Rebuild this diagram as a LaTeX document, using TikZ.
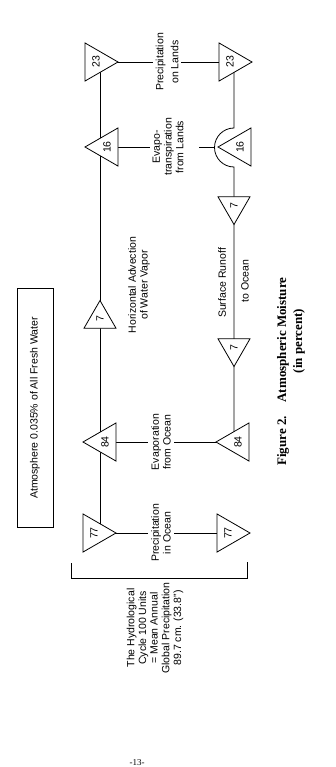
\documentclass[tikz,border=0pt]{standalone}
\usepackage{fontspec}
\setmainfont{Liberation Serif}
\newfontfamily\diagfont{Liberation Sans}
\usetikzlibrary{shapes.geometric,backgrounds}
\begin{document}
\begin{tikzpicture}[x=1pt,y=-1pt,
  diagtext/.style={font=\diagfont\fontsize{10.5}{11.7}\selectfont},
  tri/.style={regular polygon, regular polygon sides=3, draw, fill=white,
    line width=0.8pt, rotate=90, inner sep=0pt, minimum size=44pt, diagtext},
  smalltri/.style={minimum size=37pt},
  pleft/.style={tri, regular polygon rotate=0},
  pright/.style={tri, regular polygon rotate=180},
  pup/.style={tri, regular polygon rotate=-90},
  pdown/.style={tri, regular polygon rotate=90},
  lbl/.style={rotate=90, align=center, diagtext, inner sep=0pt},
  gaplbl/.style={lbl, fill=white, inner sep=3pt},
  conn/.style={line width=0.8pt},
  captext/.style={rotate=90, anchor=base, inner sep=0pt, font=\fontsize{13}{15}\selectfont\bfseries},
]
\useasboundingbox (0,0) rectangle (335,767);

% triangles
\node[pright] (t23L) at (96,62) {23};
\node[pleft] (t16L) at (107,147) {16};
\node[pup, smalltri] (t7L) at (100,319) {7};
\node[pleft] (t84L) at (105,442) {84};
\node[pright] (t77L) at (94,533) {77};
\node[pright] (t23R) at (230,62) {23};
\node[pleft] (t16R) at (240,147) {16};
\node[pdown, smalltri] (t7Ra) at (234,206) {7};
\node[pdown, smalltri] (t7Rb) at (234,348) {7};
\node[pleft] (t84R) at (238,442) {84};
\node[pright] (t77R) at (228,533) {77};

% labels
\node[gaplbl, font=\diagfont\fontsize{10.5}{15}\selectfont] (lPL) at (167,62) {Precipitation\\on Lands};
\node[gaplbl] (lEL) at (168,147) {Evapo-\\transpiration\\from Lands};
\node[lbl] (lHA) at (139,285) {Horizontal Advection\\of Water Vapor};
\node[lbl] (lSR) at (222,283) {Surface Runoff};
\node[lbl] (lTO) at (245,281) {to Ocean};
\node[gaplbl] (lEO) at (161,442) {Evaporation\\from Ocean};
\node[gaplbl] (lPO) at (161,533) {Precipitation\\in Ocean};
\node[lbl, draw, line width=0.8pt, minimum width=239pt, minimum height=36pt] (atm) at (35,408) {Atmosphere 0.035\% of All Fresh Water};
\node[lbl] (hyd) at (155,628) {The Hydrological\\Cycle 100 Units\\= Mean Annual\\Global Precipitation\\89.7 cm. (33.8”)};

% caption and page number
\node[captext, anchor=base west] (fig) at (286,466) {Figure 2.};
\node[captext] (cap1) at (286,340) {Atmospheric Moisture};
\node[captext] (cap2) at (302,341) {(in percent)};
\node[anchor=base, inner sep=0pt, font=\fontsize{9}{10}\selectfont] (pg) at (137,765) {-13-};

% bump coordinates
\coordinate (bT) at (234,128);
\coordinate (bL) at (214.5,147);
\coordinate (eR) at (199,147);

\begin{pgfonlayer}{background}
  \draw[conn] (t23L.center -| t7L.center) -- (t77L.center -| t7L.center);
  \draw[conn] (t23R.center -| bT) -- (bT) arc[start angle=90, end angle=270, radius=19.5pt] -- (t84R.center -| bT);
  \draw[conn] (t23L.center) -- (t23R.center);
  \draw[conn] (t16L.center) -- (lEL.center);
  \draw[conn] (eR) -- (bL);
  \draw[conn] (t84L.center) -- (t84R.center);
  \draw[conn] (t77L.center) -- (t77R.center);
\end{pgfonlayer}

% bracket
\draw[conn] (71,563) -- (71,578) -- (247,578) -- (247,562);
\end{tikzpicture}
\end{document}
